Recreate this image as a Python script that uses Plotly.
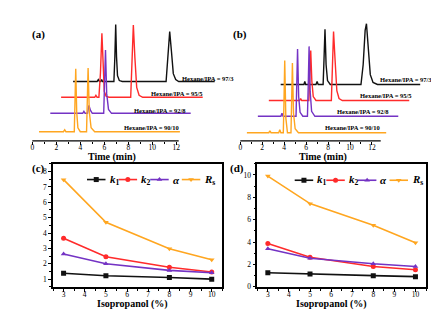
import plotly.graph_objects as go

# ---------------- data ----------------
ratios = ["97/3", "95/5", "92/8", "90/10"]
trace_colors = ["#111111", "#FF2B2B", "#7433C4", "#FFA620"]

# Panel (a) chromatograms: time (min) and signal (a.u.), one list per trace
a_t = [
    [3.4, 5.4, 5.5, 5.6, 5.7, 5.78, 5.85, 6.8, 6.88, 6.95, 7.02, 7.1, 7.25, 7.5, 11.15, 11.3, 11.45, 11.6, 11.75, 11.95, 12.2, 15.2],
    [2.4, 5.2, 5.3, 5.4, 5.55, 5.68, 5.8, 5.9, 6.0, 6.15, 6.4, 8.2, 8.3, 8.42, 8.55, 8.7, 8.9, 9.2, 14.2],
    [1.5, 4.2, 4.3, 4.4, 4.6, 4.72, 4.85, 5.0, 5.95, 6.02, 6.1, 6.2, 6.35, 6.6, 13.2],
    [0.56, 2.6, 2.7, 2.8, 3.5, 3.56, 3.62, 3.7, 3.8, 4.0, 4.52, 4.58, 4.65, 4.75, 4.9, 5.2, 12.3],
]
a_s = [
    [0, 0, 2, 0, 0, 2, 0, 0, 25, 58, 25, 6, 1, 0, 0, 25, 50.7, 30, 8, 2, 0, 0],
    [0, 0, 2, 0, 0, 25, 65, 25, 6, 1, 0, 0, 30, 73.4, 40, 10, 2, 0, 0],
    [0, 0, 2, 0, 0, 8, 3, 0, 0, 30, 64.3, 20, 4, 0, 0],
    [0, 0, 2, 0, 0, 30, 64, 20, 4, 0, 0, 30, 64.7, 20, 4, 0, 0],
]
a_offset = [60.3, 44.3, 28.0, 9.3]

# Panel (b) chromatograms
b_t = [
    [3.68, 5.8, 5.88, 5.96, 6.9, 7.0, 7.1, 7.55, 7.63, 7.72, 7.82, 7.95, 8.2, 11.0, 11.2, 11.38, 11.5, 11.65, 11.85, 12.1, 12.5, 16.4],
    [2.6, 5.4, 5.5, 5.6, 6.25, 6.33, 6.42, 6.52, 6.65, 6.9, 8.3, 8.4, 8.5, 8.62, 8.8, 9.0, 9.3, 15.4],
    [1.6, 3.7, 3.8, 3.9, 5.08, 5.15, 5.22, 5.32, 5.45, 5.7, 6.12, 6.19, 6.27, 6.37, 6.5, 6.8, 14.4],
    [0.6, 2.6, 2.7, 2.8, 3.5, 3.6, 3.7, 3.92, 3.98, 4.05, 4.15, 4.3, 4.62, 4.68, 4.75, 4.85, 5.0, 5.3, 13.3],
]
b_s = [
    [0, 0, 3, 0, 0, 3, 0, 0, 25, 56, 20, 4, 0, 0, 20, 55, 61.7, 40, 10, 2, 0, 0],
    [0, 0, 2, 0, 0, 25, 50.7, 20, 4, 0, 0, 35, 70, 45, 10, 2, 0, 0],
    [0, 0, 3, 0, 0, 30, 68.3, 20, 4, 0, 0, 30, 71, 25, 5, 0, 0],
    [0, 0, 2, 0, 0, 3, 0, 0, 30, 73.4, 15, 0, 0, 30, 70.7, 20, 4, 0, 0],
]
b_offset = [57.3, 41.0, 25.0, 8.3]

# Panels (c), (d): chromatographic parameters vs isopropanol content
ipa = [3, 5, 8, 10]
c_k1 = [1.38, 1.22, 1.11, 1.0]
c_k2 = [3.66, 2.45, 1.77, 1.47]
c_alpha = [2.64, 2.0, 1.57, 1.42]
c_rs = [7.47, 4.7, 2.98, 2.26]

d_k1 = [1.26, 1.14, 1.0, 0.91]
d_k2 = [3.88, 2.65, 1.82, 1.53]
d_alpha = [3.41, 2.56, 2.06, 1.82]
d_rs = [9.9, 7.44, 5.5, 3.94]

param_names = ["<i>k</i><sub>1</sub>", "<i>k</i><sub>2</sub>", "<i>α</i>", "<i>R</i><sub>s</sub>"]
param_colors = ["#111111", "#FF2B2B", "#7433C4", "#FFA620"]
param_symbols = ["square", "circle", "triangle-up", "triangle-down"]

# ---------------- figure ----------------
W, H = 439, 318
FONT = "Liberation Serif"


def fx(x):
    return x / W


def fy(y):
    return 1 - y / H


fig = go.Figure()

# chromatograms
for i in range(4):
    fig.add_trace(go.Scatter(x=a_t[i], y=[v + a_offset[i] for v in a_s[i]], mode="lines",
                             line=dict(color=trace_colors[i], width=1.4), xaxis="x", yaxis="y",
                             showlegend=False, hoverinfo="skip"))
for i in range(4):
    fig.add_trace(go.Scatter(x=b_t[i], y=[v + b_offset[i] for v in b_s[i]], mode="lines",
                             line=dict(color=trace_colors[i], width=1.4), xaxis="x2", yaxis="y2",
                             showlegend=False, hoverinfo="skip"))

# parameter plots
c_series = [c_k1, c_k2, c_alpha, c_rs]
d_series = [d_k1, d_k2, d_alpha, d_rs]
for ax, series in (("3", c_series), ("4", d_series)):
    for j in range(4):
        fig.add_trace(go.Scatter(x=ipa, y=series[j], mode="lines+markers",
                                 line=dict(color=param_colors[j], width=1.6),
                                 marker=dict(symbol=param_symbols[j], size=5, color=param_colors[j]),
                                 xaxis="x" + ax, yaxis="y" + ax, showlegend=False, hoverinfo="skip"))

# manual legends (pixel overlay axis)
for start, ly in ((79, 174.3), (286.7, 175.0)):
    pitch = 31.6
    for j in range(4):
        x0 = start + j * pitch
        x1 = x0 + 18.5
        fig.add_trace(go.Scatter(x=[x0, x1], y=[ly, ly], mode="lines",
                                 line=dict(color=param_colors[j], width=1.6),
                                 xaxis="x5", yaxis="y5", showlegend=False, hoverinfo="skip"))
        fig.add_trace(go.Scatter(x=[(x0 + x1) / 2], y=[ly], mode="markers",
                                 marker=dict(symbol=param_symbols[j], size=5, color=param_colors[j]),
                                 xaxis="x5", yaxis="y5", showlegend=False, hoverinfo="skip"))
        fig.add_annotation(x=x1 + 2, y=ly, xref="x5", yref="y5", text="<b>" + param_names[j] + "</b>",
                           showarrow=False, xanchor="left", yanchor="middle",
                           font=dict(family=FONT, size=11, color="black"))

tickfont = dict(family=FONT, size=7.5, color="black")
title_font = dict(family=FONT, size=10, color="black")

chrom_x = dict(showline=False, showgrid=False, zeroline=False, ticks="outside", ticklen=3, tickwidth=1,
               tickcolor="black", tickmode="array", tickvals=[0, 2, 4, 6, 8, 10, 12],
               tickfont=tickfont, ticklabelstandoff=-4,
               minor=dict(ticks="outside", ticklen=2, tickcolor="black", tickmode="array",
                          tickvals=[1, 3, 5, 7, 9, 11]))
hidden_y = dict(visible=False, range=[0, 130], fixedrange=True)

param_x = dict(range=[2.5, 10.5], showline=True, linecolor="black", linewidth=1.5, mirror=True,
               showgrid=False, zeroline=False, ticks="outside", ticklen=3, tickcolor="black",
               dtick=1, tick0=3, tickfont=tickfont, ticklabelstandoff=-4,
               minor=dict(ticks="outside", ticklen=2, tickcolor="black", dtick=0.5, tick0=2.5))

fig.update_layout(
    width=W, height=H, margin=dict(l=0, r=0, t=0, b=0),
    paper_bgcolor="white", plot_bgcolor="rgba(0,0,0,0)",
    showlegend=False,
    xaxis=dict(domain=[fx(18), fx(218)], range=[(18 - 24.3) / 12, (218 - 24.3) / 12], anchor="y", **chrom_x),
    yaxis=dict(domain=[fy(135), fy(5)], anchor="x", **hidden_y),
    xaxis2=dict(domain=[fx(222), fx(435)], range=[(222 - 232.3) / 10.97, (435 - 232.3) / 10.97], anchor="y2", **chrom_x),
    yaxis2=dict(domain=[fy(135), fy(5)], anchor="x2", **hidden_y),
    xaxis3=dict(domain=[fx(45), fx(214.3)], anchor="y3", **param_x),
    yaxis3=dict(domain=[fy(283.3), fy(158.3)], anchor="x3", range=[0.5, 8.5], showline=True, linecolor="black",
                linewidth=1.5, mirror=True, showgrid=False, zeroline=False, ticks="outside", ticklen=3,
                tickcolor="black", dtick=1, tick0=1, tickfont=tickfont,
                minor=dict(ticks="outside", ticklen=2, tickcolor="black", dtick=0.5, tick0=0.5)),
    xaxis4=dict(domain=[fx(249.3), fx(418)], anchor="y4", **param_x),
    yaxis4=dict(domain=[fy(283.3), fy(158.3)], anchor="x4", range=[0, 11], showline=True, linecolor="black",
                linewidth=1.5, mirror=True, showgrid=False, zeroline=False, ticks="outside", ticklen=3,
                tickcolor="black", dtick=2, tick0=0, tickfont=tickfont,
                minor=dict(ticks="outside", ticklen=2, tickcolor="black", dtick=1, tick0=0)),
    xaxis5=dict(domain=[0, 1], range=[0, W], visible=False, fixedrange=True, anchor="y5"),
    yaxis5=dict(domain=[0, 1], range=[H, 0], visible=False, fixedrange=True, anchor="x5"),
)

# chromatogram axis lines (only across the labelled time span)
fig.add_shape(type="line", xref="x", yref="paper", x0=0, x1=12.2, y0=fy(135), y1=fy(135),
              line=dict(color="black", width=1.2))
fig.add_shape(type="line", xref="x2", yref="paper", x0=0, x1=12.8, y0=fy(135), y1=fy(135),
              line=dict(color="black", width=1.2))

# axis titles (pixel overlay coordinates)
for tx, ty, txt in ((104, 151.5, "Time (min)"), (314.7, 151.5, "Time (min)"),
                    (124, 300.5, "Isopropanol (%)"), (323, 300.5, "Isopropanol (%)")):
    fig.add_annotation(x=tx, y=ty, xref="x5", yref="y5", text="<b>" + txt + "</b>", showarrow=False,
                       xanchor="center", yanchor="middle", font=title_font)

# trace labels (pixel overlay coordinates)
a_label_pos = [(172, 72), (141, 87.3), (124, 104), (114, 121.3)]
b_label_pos = [(370, 72.3), (350, 89.3), (327, 105.3), (315, 121.7)]
for pos_list in (a_label_pos, b_label_pos):
    for (lx, ly), r in zip(pos_list, ratios):
        fig.add_annotation(x=lx, y=ly, xref="x5", yref="y5",
                           text="<b>Hexane/IPA = " + r + "</b>", showarrow=False,
                           xanchor="left", yanchor="middle",
                           font=dict(family=FONT, size=6.5, color="black"))

# panel letters
for letter, (lx, ly) in zip(["(a)", "(b)", "(c)", "(d)"],
                            [(22, 26.7), (222.5, 26.7), (22, 163.3), (219.5, 163.3)]):
    fig.add_annotation(x=lx, y=ly, xref="x5", yref="y5", text="<b>" + letter + "</b>",
                       showarrow=False, xanchor="left", yanchor="middle",
                       font=dict(family=FONT, size=11, color="black"))

fig.write_html("out.html")
